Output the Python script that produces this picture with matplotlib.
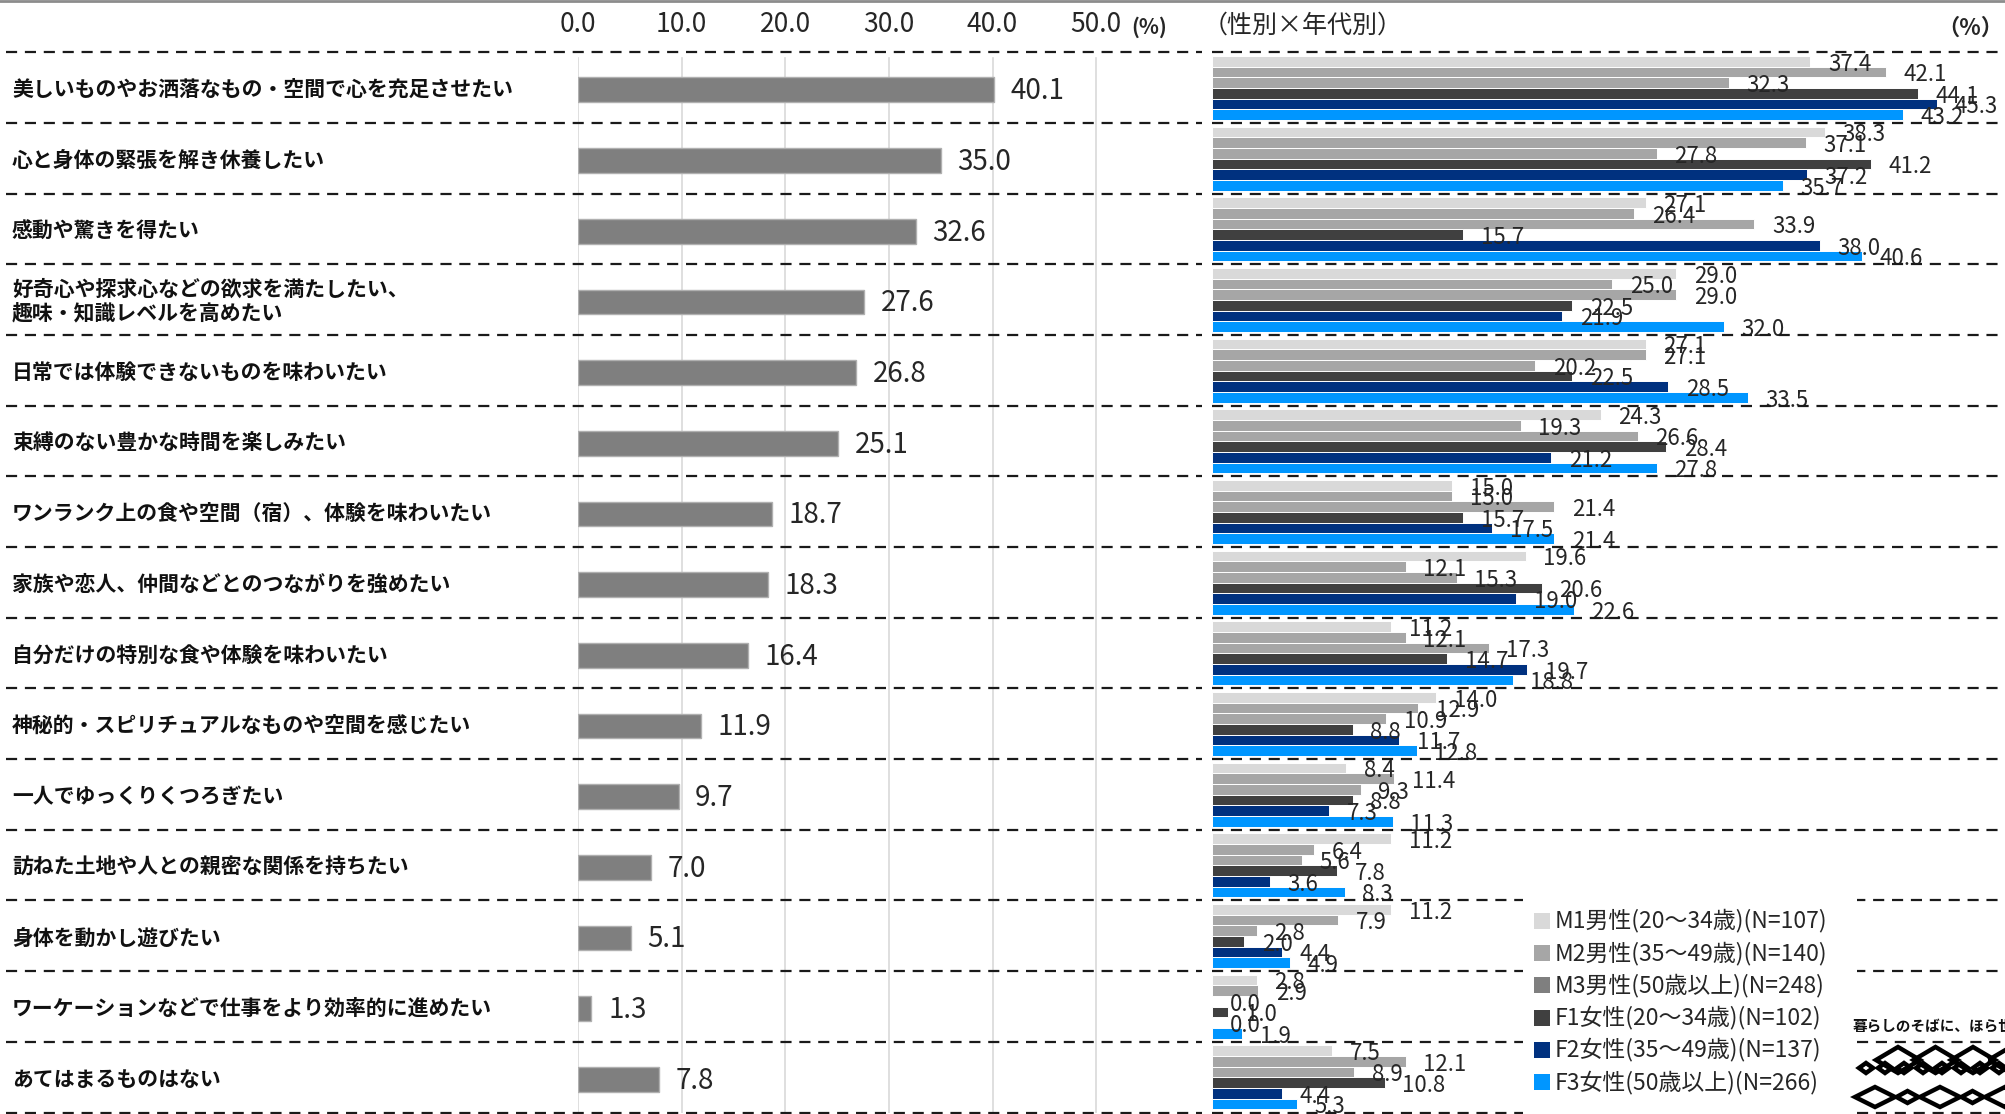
import numpy as np
import matplotlib.pyplot as plt
from matplotlib.patches import Rectangle, Polygon

plt.rcParams['font.family'] = ['Noto Sans CJK JP', 'DejaVu Sans']
NUM_FONT = ['Liberation Sans Narrow', 'Noto Sans CJK JP', 'DejaVu Sans']

# --- data -------------------------------------------------------------
categories = [
    '美しいものやお洒落なもの・空間で心を充足させたい',
    '心と身体の緊張を解き休養したい',
    '感動や驚きを得たい',
    '好奇心や探求心などの欲求を満たしたい、\n趣味・知識レベルを高めたい',
    '日常では体験できないものを味わいたい',
    '束縛のない豊かな時間を楽しみたい',
    'ワンランク上の食や空間（宿）、体験を味わいたい',
    '家族や恋人、仲間などとのつながりを強めたい',
    '自分だけの特別な食や体験を味わいたい',
    '神秘的・スピリチュアルなものや空間を感じたい',
    '一人でゆっくりくつろぎたい',
    '訪ねた土地や人との親密な関係を持ちたい',
    '身体を動かし遊びたい',
    'ワーケーションなどで仕事をより効率的に進めたい',
    'あてはまるものはない',
]
total = [40.1, 35.0, 32.6, 27.6, 26.8, 25.1, 18.7, 18.3, 16.4, 11.9, 9.7, 7.0, 5.1, 1.3, 7.8]

m1 = [37.4, 38.3, 27.1, 29.0, 27.1, 24.3, 15.0, 19.6, 11.2, 14.0, 8.4, 11.2, 11.2, 2.8, 7.5]
m2 = [42.1, 37.1, 26.4, 25.0, 27.1, 19.3, 15.0, 12.1, 12.1, 12.9, 11.4, 6.4, 7.9, 2.9, 12.1]
m3 = [32.3, 27.8, 33.9, 29.0, 20.2, 26.6, 21.4, 15.3, 17.3, 10.9, 9.3, 5.6, 2.8, 0.0, 8.9]
f1 = [44.1, 41.2, 15.7, 22.5, 22.5, 28.4, 15.7, 20.6, 14.7, 8.8, 8.8, 7.8, 2.0, 1.0, 10.8]
f2 = [45.3, 37.2, 38.0, 21.9, 28.5, 21.2, 17.5, 19.0, 19.7, 11.7, 7.3, 3.6, 4.4, 0.0, 4.4]
f3 = [43.2, 35.7, 40.6, 32.0, 33.5, 27.8, 21.4, 22.6, 18.8, 12.8, 11.3, 8.3, 4.9, 1.9, 5.3]

groups = [
    'M1男性(20～34歳)(N=107)',
    'M2男性(35～49歳)(N=140)',
    'M3男性(50歳以上)(N=248)',
    'F1女性(20～34歳)(N=102)',
    'F2女性(35～49歳)(N=137)',
    'F3女性(50歳以上)(N=266)',
]
bar_colors = ['#d9d9d9', '#a6a6a6', '#a6a6a6', '#404040', '#00317f', '#0096ff']
key_colors = ['#d9d9d9', '#a6a6a6', '#7f7f7f', '#404040', '#00317f', '#0096ff']
ticks = [0, 10, 20, 30, 40, 50]

# --- layout (pixels) --------------------------------------------------
W, H = 2005, 1114
TOP, BOT = 52.4, 1112.5
ROW = (BOT - TOP) / len(categories)
n = len(categories)

fig = plt.figure(figsize=(W / 100, H / 100), dpi=100)


def frac(x0, y0, x1, y1):
    return [x0 / W, 1 - y1 / H, (x1 - x0) / W, (y1 - y0) / H]


# left panel: overall
ax_l = fig.add_axes(frac(578, TOP, 1200, BOT))
ax_l.set_xlim(0, 60)
ax_l.set_ylim(n, 0)
ax_l.axis('off')
for t in ticks:
    ax_l.plot([t, t], [0.08, n], color='#d9d9d9', lw=1.2, zorder=0)
yl = np.arange(n) + 0.53
ax_l.barh(yl, total, height=0.35, color='#7f7f7f', edgecolor='#b0b0b0', lw=1.0, zorder=2)
for y, v in zip(yl, total):
    ax_l.text(v + 1.6, y + 0.02, f'{v:.1f}', va='center', ha='left',
              fontsize=20, color='#262626', family=NUM_FONT)

# right panel: by sex x age
ax_r = fig.add_axes(frac(1212, TOP, W, BOT))
ax_r.set_xlim(0, (W - 1212) / 16.0)
ax_r.set_ylim(n, 0)
ax_r.axis('off')
series = [m1, m2, m3, f1, f2, f3]
bh = 0.151
for j, (vals, c) in enumerate(zip(series, bar_colors)):
    yy = np.arange(n) + 0.05 + bh * (j + 0.5)
    ax_r.barh(yy, vals, height=bh, color=c, edgecolor='white', lw=0.7, zorder=2)
    for y, v in zip(yy, vals):
        ax_r.text(v + 1.1, y + 0.04, f'{v:.1f}', va='center', ha='left',
                  fontsize=16, color='#262626', family=NUM_FONT, zorder=3)

# overlay for text, separators, key and logo
ov = fig.add_axes([0, 0, 1, 1], zorder=5)
ov.set_xlim(0, W)
ov.set_ylim(H, 0)
ov.axis('off')
ov.patch.set_visible(False)

ov.plot([0, W], [1, 1], color='#8c8c8c', lw=2)
for i in range(n + 1):
    y = TOP + ROW * i
    ov.plot([6, 1202], [y, y], color='#1a1a1a', lw=1.6, dashes=(5, 3.5))
    ov.plot([1212, W], [y, y], color='#1a1a1a', lw=1.6, dashes=(5, 3.5))

for i, lab in enumerate(categories):
    y = TOP + ROW * (i + 0.5) + 2
    ov.text(12, y, lab, va='center', ha='left', fontsize=15, fontweight='bold',
            color='#111111', linespacing=1.2)

for t in ticks:
    ov.text(578 + t * 10.36, 24, f'{t:.1f}', ha='center', va='center',
            fontsize=19, color='#262626', family=NUM_FONT)
ov.text(1131, 27, '(%)', ha='left', va='center', fontsize=15, fontweight='bold', color='#262626')
ov.text(1203, 26, '（性別×年代別）', ha='left', va='center', fontsize=18, color='#262626')
ov.text(W - 2, 28, '（%）', ha='right', va='center', fontsize=16, fontweight='bold', color='#262626')

# key box
ov.add_patch(Rectangle((1523, 890), 334, H - 890, facecolor='white', edgecolor='none', zorder=4))
for k, (g, c) in enumerate(zip(groups, key_colors)):
    y = 921 + 32.2 * k
    ov.add_patch(Rectangle((1534, y - 8), 16, 16, facecolor=c, edgecolor='none', zorder=5))
    ov.text(1555, y, g, va='center', ha='left', fontsize=16.5, color='#262626',
            family=NUM_FONT, zorder=5)

# logo
ov.add_patch(Rectangle((1857, 990), W - 1857, H - 990, facecolor='white', edgecolor='none', zorder=4))
ov.text(1853, 1026, '暮らしのそばに、ほら世界', va='center', ha='left', fontsize=10.5,
        fontweight='bold', color='#111111', zorder=5, clip_on=True)
ov.plot([1857, W], [1042, 1042], color='#1a1a1a', lw=1.6, dashes=(5, 3.5), zorder=5)
ov.plot([1857, W], [BOT, BOT], color='#1a1a1a', lw=1.6, dashes=(5, 3.5), zorder=5)


def diamond(cx, cy, hw, hh):
    return Polygon([(cx - hw, cy), (cx, cy - hh), (cx + hw, cy), (cx, cy + hh)],
                   closed=True, fill=False, edgecolor='black', lw=3.2, zorder=6)


for cx in np.arange(1898, W + 40, 37.5):
    ov.add_patch(diamond(cx, 1060, 22, 13))
for cx in np.arange(1866, W + 20, 19):
    ov.add_patch(diamond(cx, 1068, 7, 5))
for k, cx in enumerate(np.arange(1875, W + 40, 32.5)):
    if k % 2 == 0:
        ov.add_patch(diamond(cx, 1097, 20, 10))
    else:
        ov.add_patch(diamond(cx, 1097, 11, 6))

fig.savefig('out.png', dpi=100)
